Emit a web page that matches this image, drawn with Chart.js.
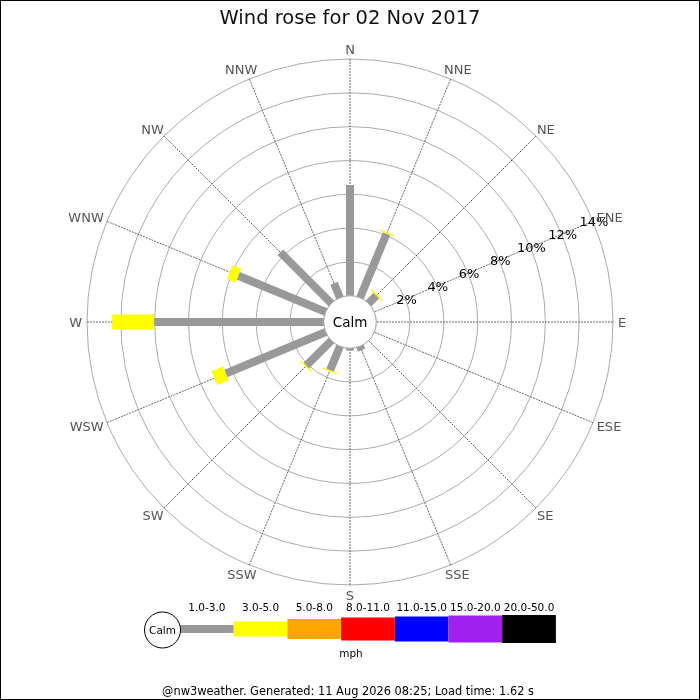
<!DOCTYPE html>
<html><head><meta charset="utf-8">
<script src="https://cdn.jsdelivr.net/npm/chart.js@4"></script>
<style>html,body{margin:0;padding:0;background:#fff}canvas{display:block}</style>
</head><body>
<canvas id="c" width="700" height="700"></canvas>
<script>
// ---- data ----
const directions = ['N','NNE','NE','ENE','E','ESE','SE','SSE','S','SSW','SW','WSW','W','WNW','NW','NNW'];
const speed1to3 = [6.55,4.1,0.65,0,0,0,0,0.25,0.14,1.53,2.1,6.4,10.03,5.6,4.28,0.93];
const speed3to5 = [0,0.08,0.08,0,0,0,0,0,0,0.08,0.08,0.73,2.48,0.55,0,0];
const speedBands = ['1.0-3.0','3.0-5.0','5.0-8.0','8.0-11.0','11.0-15.0','15.0-20.0','20.0-50.0'];
const percentTicks = [2,4,6,8,10,12,14];
const titleText = 'Wind rose for 02 Nov 2017';
const footerText = '@nw3weather. Generated: 11 Aug 2026 08:25; Load time: 1.62 s';
const unitText = 'mph';
const calmText = 'Calm';

// ---- styles ----
const bandColors = ['#999999','#ffff00','#ffa500','#ff0000','#0000ff','#a020f0','#000000'];
const bandThickness = [8,15,20,23,25,27,28];
const FONT = '"DejaVu Sans", "Noto Sans", sans-serif';

const series = [speed1to3, speed3to5];
const cumulative = [];
series.forEach((s, k) => {
  cumulative.push(s.map((v, i) => v + (k > 0 ? cumulative[k-1][i] : 0)));
});

const windRosePlugin = {
  id: 'windrose',
  afterDatasetsDraw(chart) {
    const ctx = chart.ctx;
    const r = chart.scales.r;
    ctx.save();
    ctx.lineCap = 'butt';
    chart.data.datasets.forEach((ds, k) => {
      const meta = chart.getDatasetMeta(k);
      meta.data.forEach((pt, i) => {
        if (!series[k][i]) return;
        const start = k === 0 ? r.getPointPositionForValue(i, 0) : chart.getDatasetMeta(k-1).data[i];
        ctx.beginPath();
        ctx.moveTo(start.x, start.y);
        ctx.lineTo(pt.x, pt.y);
        ctx.lineWidth = bandThickness[k];
        ctx.strokeStyle = bandColors[k];
        ctx.stroke();
      });
    });
    // calm circle
    const rc = r.getDistanceFromCenterForValue(0);
    ctx.beginPath();
    ctx.arc(r.xCenter, r.yCenter, rc, 0, Math.PI*2);
    ctx.fillStyle = '#fff';
    ctx.fill();
    ctx.lineWidth = 1;
    ctx.strokeStyle = '#aaa';
    ctx.stroke();
    ctx.fillStyle = '#000';
    ctx.font = '13.5px ' + FONT;
    ctx.textAlign = 'center';
    ctx.textBaseline = 'alphabetic';
    ctx.fillText(calmText, r.xCenter, r.yCenter + 5);

    // percentage ticks along ENE spoke
    const tickIdx = directions.indexOf('ENE');
    ctx.font = '13px ' + FONT;
    percentTicks.forEach(v => {
      const p = r.getPointPositionForValue(tickIdx, v);
      ctx.fillText(v + '%', p.x + 1, p.y + 4.7);
    });

    // direction labels
    ctx.font = '13px ' + FONT;
    ctx.fillStyle = '#555';
    const R = 268;
    directions.forEach((d, i) => {
      const p = r.getPointPosition(i, R);
      const ux = (p.x - r.xCenter) / R, uy = (p.y - r.yCenter) / R;
      const w = ctx.measureText(d).width;
      const cx = p.x + ux * w / 2;
      const cy = p.y + uy * 5;
      ctx.fillText(d, cx, cy + 4.7);
    });

    // title
    ctx.fillStyle = '#111';
    ctx.font = '19.5px ' + FONT;
    ctx.fillText(titleText, 350, 24);

    // legend
    const lx0 = 180, segW = 53.7, ly = 629;
    speedBands.forEach((b, k) => {
      const x = lx0 + k * segW;
      ctx.fillStyle = bandColors[k];
      ctx.fillRect(x, ly - bandThickness[k]/2, segW, bandThickness[k]);
      ctx.fillStyle = '#000';
      ctx.font = '10.5px ' + FONT;
      ctx.fillText(b, x + segW/2, 611);
    });
    ctx.beginPath();
    ctx.arc(162.5, 630, 18, 0, Math.PI*2);
    ctx.fillStyle = '#fff';
    ctx.fill();
    ctx.strokeStyle = '#000';
    ctx.lineWidth = 1;
    ctx.stroke();
    ctx.fillStyle = '#000';
    ctx.font = '10.5px ' + FONT;
    ctx.fillText(calmText, 162.5, 634);
    ctx.fillText(unitText, 351, 657);

    // footer
    ctx.font = '11.4px ' + FONT;
    ctx.fillText(footerText, 348, 695);

    // border
    ctx.strokeStyle = '#000';
    ctx.lineWidth = 1;
    ctx.strokeRect(0.5, 0.5, 699, 699);
    ctx.restore();
  }
};

new Chart(document.getElementById('c'), {
  type: 'radar',
  data: {
    labels: directions,
    datasets: cumulative.map((d, k) => ({
      label: speedBands[k],
      data: d,
      showLine: false,
      borderWidth: 0,
      pointRadius: 0,
      pointHoverRadius: 0,
      fill: false
    }))
  },
  options: {
    responsive: false,
    animation: false,
    events: [],
    layout: { padding: { left: 87, right: 87, top: 59, bottom: 115 } },
    plugins: { legend: { display: false }, title: { display: false }, tooltip: { enabled: false } },
    scales: {
      r: {
        min: -1.55,
        max: 14,
        ticks: { display: false, stepSize: 2 },
        grid: { circular: true, color: '#aaaaaa', lineWidth: 1 },
        angleLines: { display: true, color: '#666', lineWidth: 1, borderDash: [2, 1] },
        pointLabels: { display: false }
      }
    }
  },
  plugins: [windRosePlugin]
});
</script>
</body></html>
